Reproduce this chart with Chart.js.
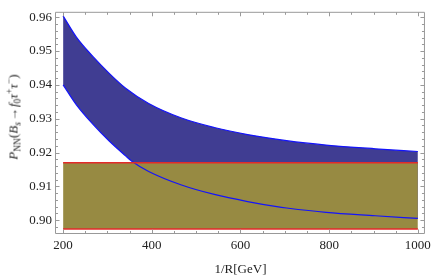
<!DOCTYPE html>
<html>
<head>
<meta charset="utf-8">
<script src="https://cdn.jsdelivr.net/npm/chart.js@4.4.1/dist/chart.umd.min.js"></script>
<style>
  html, body { margin: 0; padding: 0; background: #fff; }
  #wrap { position: relative; width: 436px; height: 276px; }
  #ytitle {
    position: absolute; left: 13px; top: 117px;
    transform: translate(-50%, -50%) rotate(-90deg);
    font-family: 'Liberation Serif', serif; font-size: 13px; line-height: 1;
    white-space: nowrap; color: #222;
  }
  #ytitle sub, #ytitle sup { font-size: 9.5px; line-height: 0; }
  #ytitle sub { vertical-align: -3px; }
  #ytitle sup { vertical-align: 5px; }
  #ytitle .arr { padding: 0 1px; }
</style>
</head>
<body>
<div id="wrap">
  <canvas id="chart" width="436" height="276"></canvas>
  <div id="ytitle"><i>P</i><sub>NN</sub>(<i>B</i><sub><i>s</i></sub><span class="arr">→</span><i>f</i><sub>0</sub><i>τ</i><sup>+</sup><i>τ</i><sup>−</sup>)</div>
</div>
<script>
// tick labels
const xTicks = [200, 400, 600, 800, 1000];
const yTicks = [0.90, 0.91, 0.92, 0.93, 0.94, 0.95, 0.96];

// blue band
const upperX = [200, 230, 267, 304, 341, 393, 467, 541, 616, 704, 793, 904, 1000];
const upperY = [0.9604, 0.9541, 0.9484, 0.9434, 0.9390, 0.9345, 0.9302, 0.9274, 0.9253, 0.9235, 0.9222, 0.9211, 0.9203];
const lowerX = [200, 230, 267, 304, 341, 355, 393, 467, 541, 616, 682, 704, 793, 904, 1000];
const lowerY = [0.9400, 0.9341, 0.9284, 0.9234, 0.9190, 0.9174, 0.9144, 0.9104, 0.9076, 0.9055, 0.9040, 0.9036, 0.9023, 0.9013, 0.9005];

// olive band (constant limits)
const bandX = [200, 1000];
const bandTop = [0.9170, 0.9170];
const bandBottom = [0.8974, 0.8974];

function pts(xs, ys) {
  return xs.map((x, i) => ({ x, y: ys[i] }));
}

const serif = "'Liberation Serif', 'Times New Roman', serif";
const frameColor = '#999999';

const framePlugin = {
  id: 'frame',
  afterDatasetsDraw(chart) {
    const { ctx, chartArea: a, scales: { x, y } } = chart;
    const L = a.left - 0.5, R = a.right - 0.5, T = a.top + 0.5, B = a.bottom + 0.5;
    ctx.save();
    ctx.strokeStyle = frameColor;
    ctx.lineWidth = 1;
    ctx.beginPath();
    ctx.rect(L, T, R - L, B - T);
    // x ticks, every 50, major every 200
    for (let v = 200; v <= 1000; v += 50) {
      const px = Math.round(x.getPixelForValue(v)) + 0.5;
      const len = v % 200 === 0 ? 4 : 2.5;
      ctx.moveTo(px, B); ctx.lineTo(px, B - len);
      ctx.moveTo(px, T); ctx.lineTo(px, T + len);
    }
    // y ticks, every 0.002, major every 0.01
    for (let k = 449; k <= 480; k++) {
      const v = k * 0.002;
      if (v < y.min || v > y.max) continue;
      const py = Math.round(y.getPixelForValue(v)) + 0.5;
      const len = k % 5 === 0 ? 4 : 2.5;
      ctx.moveTo(L, py); ctx.lineTo(L + len, py);
      ctx.moveTo(R, py); ctx.lineTo(R - len, py);
    }
    ctx.stroke();
    ctx.restore();
  }
};

const lineBase = {
  pointRadius: 0,
  pointHoverRadius: 0,
  cubicInterpolationMode: 'monotone'
};

new Chart(document.getElementById('chart'), {
  type: 'line',
  data: {
    datasets: [
      { ...lineBase, label: 'band top', data: pts(bandX, bandTop), borderColor: 'rgb(226,42,42)', borderWidth: 1.5,
        fill: '+1', backgroundColor: 'rgb(151,138,66)' },
      { ...lineBase, label: 'band bottom', data: pts(bandX, bandBottom), borderColor: 'rgb(226,42,42)', borderWidth: 1.5, fill: false },
      { ...lineBase, label: 'upper', data: pts(upperX, upperY), borderColor: 'rgb(20,20,250)', borderWidth: 1.2,
        fill: '+1', backgroundColor: 'rgb(64,61,146)' },
      { ...lineBase, label: 'lower', data: pts(lowerX, lowerY), borderColor: 'rgb(20,20,250)', borderWidth: 1.2, fill: false }
    ]
  },
  options: {
    responsive: false,
    animation: false,
    events: [],
    layout: { padding: { left: 0, right: 7, top: 3, bottom: 0 }, autoPadding: false },
    plugins: {
      legend: { display: false },
      tooltip: { enabled: false },
      filler: { drawTime: 'beforeDatasetsDraw' }
    },
    scales: {
      x: {
        type: 'linear',
        min: 184,
        max: 1016,
        afterBuildTicks: s => { s.ticks = xTicks.map(v => ({ value: v })); },
        afterFit: s => { s.height = 43; },
        grid: { display: false, drawTicks: false },
        border: { display: false },
        ticks: {
          color: '#222', font: { family: serif, size: 13 }, padding: 5,
          maxRotation: 0, autoSkip: false, callback: v => String(v)
        },
        title: {
          display: true, text: '1/R[GeV]', color: '#222',
          font: { family: serif, size: 13, lineHeight: 1 }, padding: { top: 0, bottom: 0 }
        }
      },
      y: {
        type: 'linear',
        min: 0.8962,
        max: 0.9616,
        afterBuildTicks: s => { s.ticks = yTicks.map(v => ({ value: v })); },
        afterFit: s => { s.width = 56; },
        grid: { display: false, drawTicks: false },
        border: { display: false },
        ticks: {
          color: '#222', font: { family: serif, size: 13 }, padding: 4,
          autoSkip: false, callback: v => Number(v).toFixed(2)
        }
      }
    }
  },
  plugins: [framePlugin]
});
</script>
</body>
</html>
